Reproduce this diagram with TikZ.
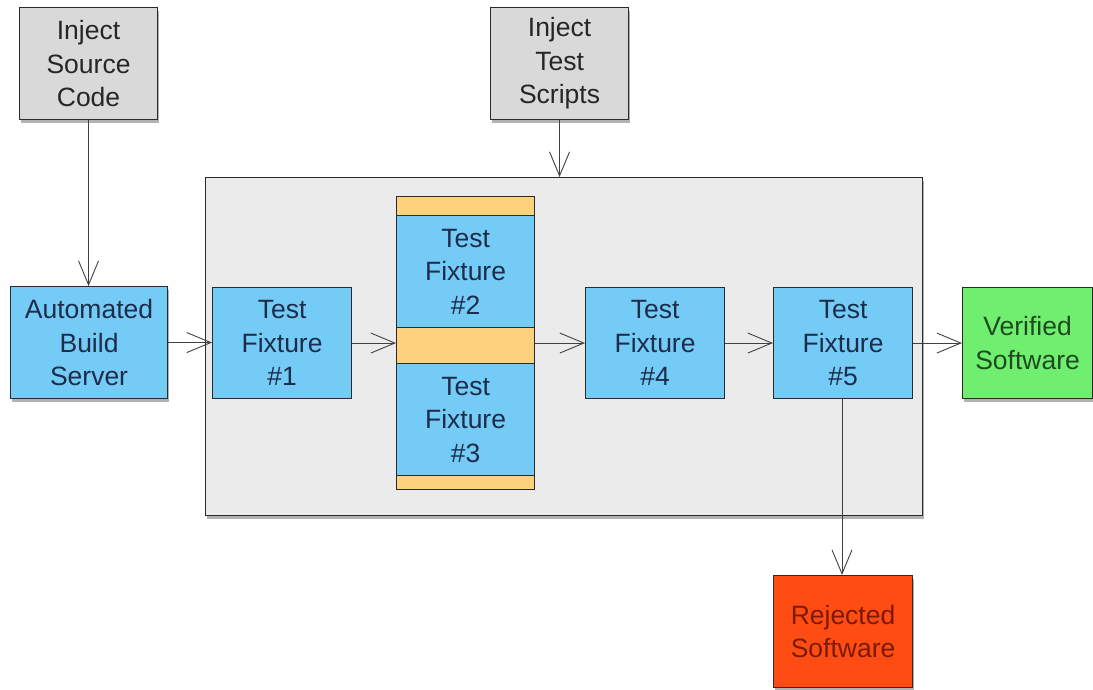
\documentclass[tikz,border=0pt]{standalone}
\usepackage{fontspec}
\setmainfont{Liberation Sans}
\usetikzlibrary{arrows.meta,shadows}
\definecolor{boxgray}{HTML}{D9D9D9}
\definecolor{contgray}{HTML}{EBEBEB}
\definecolor{fixblue}{HTML}{74CBF5}
\definecolor{strip}{HTML}{FDD27E}
\definecolor{okgreen}{HTML}{6FEE70}
\definecolor{badred}{HTML}{FF4C12}
\definecolor{edge}{HTML}{2B2B2B}
\definecolor{navy}{HTML}{1C2C4A}
\definecolor{dgreen}{HTML}{1E4A1E}
\definecolor{dred}{HTML}{7A1A05}
\tikzset{
  shad/.style={drop shadow={shadow xshift=1.5pt,shadow yshift=-3pt,opacity=0.3,fill=black}},
  box/.style={draw=edge,line width=1.1pt,align=center,inner sep=0pt,anchor=north west,
    font=\fontsize{26.5}{33.5}\selectfont},
  graybox/.style={box,shad,fill=boxgray,text=black!85,minimum width=138pt,minimum height=112pt},
  fixbox/.style={box,fill=fixblue,text=navy,minimum width=139pt,minimum height=111pt},
  stripbox/.style={box,fill=strip,minimum width=138pt},
  conn/.style={draw=edge!90,line width=0.9pt,-{Straight Barb[length=24pt,width=20pt,line width=0.9pt]}}
}
\begin{document}
\begin{tikzpicture}[x=1pt,y=-1pt]
\useasboundingbox (0,0) rectangle (1093,689);
% container
\node[box,shad,fill=contgray,minimum width=717pt,minimum height=338pt] (cont) at (205,177) {};
% inject boxes
\node[graybox] (src) at (19,7) {Inject\\Source\\Code};
\node[graybox] (scr) at (490,7) {Inject\\Test\\Scripts};
% build server
\node[box,shad,fill=fixblue,text=navy,minimum width=157pt,minimum height=112pt] (build) at (10,286) {Automated\\Build\\Server};
% fixtures
\node[fixbox] (tf1) at (212,287) {Test\\Fixture\\\#1};
\node[fixbox] (tf4) at (585,287) {Test\\Fixture\\\#4};
\node[fixbox] (tf5) at (773,287) {Test\\Fixture\\\#5};
% stack
\node[stripbox,minimum height=19pt] (stop) at (396,196) {};
\node[box,fill=fixblue,text=navy,minimum width=138pt,minimum height=112pt] (tf2) at (396,215) {Test\\Fixture\\\#2};
\node[stripbox,minimum height=36pt] (smid) at (396,327) {};
\node[box,fill=fixblue,text=navy,minimum width=138pt,minimum height=112pt] (tf3) at (396,363) {Test\\Fixture\\\#3};
\node[stripbox,minimum height=14pt] (sbot) at (396,475) {};
% outputs
\node[box,shad,fill=okgreen,text=dgreen,minimum width=130pt,minimum height=111pt] (ver) at (962,287) {Verified\\Software};
\node[box,shad,fill=badred,text=dred,minimum width=139pt,minimum height=112pt] (rej) at (773,575) {Rejected\\Software};
% connectors
\draw[conn] (src.south) -- (src.south |- build.north);
\draw[conn] (scr.south) -- (scr.south |- cont.north);
\draw[conn] (build.east) -- (build.east -| tf1.west);
\draw[conn] (tf1.east) -- (tf1.east -| smid.west);
\draw[conn] (smid.east |- tf4.west) -- (tf4.west);
\draw[conn] (tf4.east) -- (tf5.west);
\draw[conn] (tf5.east) -- (tf5.east -| ver.west);
\coordinate (rejtop) at (842,575);
\draw[conn] (tf5.south -| rejtop) -- (rejtop);
\end{tikzpicture}
\end{document}
